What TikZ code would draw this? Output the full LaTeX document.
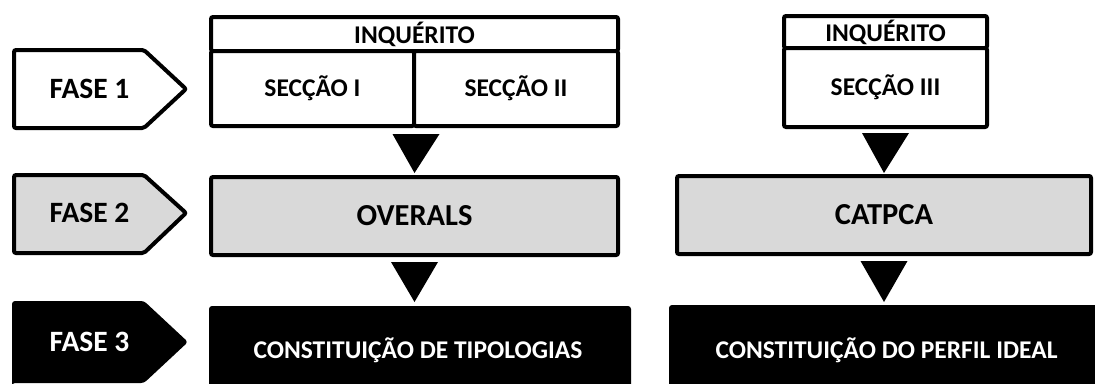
\documentclass[tikz,border=0pt]{standalone}
\usepackage{fontspec}
\setmainfont{Carlito}
\usetikzlibrary{calc}
\begin{document}
\begin{tikzpicture}[x=1pt,y=-1pt,
  frame/.style={draw=black, line width=4pt, rounded corners=2pt, inner sep=0pt},
  wbox/.style={frame, fill=white},
  gbox/.style={frame, fill=gray!30},
  bbox/.style={fill=black, rounded corners=3pt, inner sep=0pt, outer sep=0pt, text=white},
  small/.style={font=\bfseries\fontsize{25.5}{30}\selectfont},
  big/.style={font=\bfseries\fontsize{30.5}{36}\selectfont},
  fase/.style={font=\bfseries\fontsize{29.5}{34}\selectfont},
  tip/.style={fill=black}
]
\useasboundingbox (0,0) rectangle (1095,383);
\clip (0,0) rectangle (1095,383);

% phase labels
\draw[line width=4pt, rounded corners=2pt, fill=white]
  (14,50) -- (144,50) -- (186,89) -- (144,128) -- (14,128) -- cycle;
\node[fase, inner sep=0pt] (f1) at (89.5,89) {FASE 1};
\draw[line width=4pt, rounded corners=2pt, fill=gray!30]
  (14,175) -- (144,175) -- (186,213) -- (144,253) -- (14,253) -- cycle;
\node[fase, inner sep=0pt] (f2) at (89.5,213) {FASE 2};
\fill[rounded corners=3pt]
  (12,301) -- (144,301) -- (188,342) -- (144,383) -- (12,383) -- (12,395) -- cycle;
\node[fase, inner sep=0pt, text=white] (f3) at (89.5,342) {FASE 3};

% left column
\node[wbox, small, minimum width=407pt, minimum height=34pt] (inq1) at (414.5,34) {INQUÉRITO};
\node[wbox, small, minimum width=203pt, minimum height=75pt] (sec1) at (312.5,88.5) {SECÇÃO I};
\node[wbox, small, minimum width=204pt, minimum height=75pt] (sec2) at (516,88.5) {SECÇÃO II};
\node[gbox, big, minimum width=407pt, minimum height=78pt] (ov) at (414.5,216) {OVERALS};
\node[bbox, small, minimum width=422pt, minimum height=90pt] (ct) at (420,351) {};
\node[small, text=white] (ctt) at (418,350) {CONSTITUIÇÃO DE TIPOLOGIAS};

% right column
\node[wbox, small, minimum width=203pt, minimum height=32pt] (inq2) at (885.5,32) {INQUÉRITO};
\node[wbox, small, minimum width=203pt, minimum height=79pt] (sec3) at (885.5,87.5) {SECÇÃO III};
\node[gbox, big, minimum width=414pt, minimum height=78pt] (cat) at (884,215) {CATPCA};
\node[bbox, small, minimum width=434pt, minimum height=90pt] (cp) at (886,350) {};
\node[small, text=white] (cpt) at (886.5,350) {CONSTITUIÇÃO DO PERFIL IDEAL};

% triangles
\fill[tip] ($(sec1.south east)+(-23.5,6)$) -- ($(sec1.south east)+(23.5,6)$) -- ($(ov.north)+(0,-2)$) -- cycle;
\fill[tip] ($(ov.south)+(-23.5,5)$) -- ($(ov.south)+(23.5,5)$) -- ($(ct.north)+(-5.5,-4)$) -- cycle;
\fill[tip] ($(sec3.south)+(-23.5,4)$) -- ($(sec3.south)+(23.5,4)$) -- ($(cat.north)+(0,-1)$) -- cycle;
\fill[tip] ($(cat.south)+(-23.5,5)$) -- ($(cat.south)+(23.5,5)$) -- ($(cp.north)+(-2,-3)$) -- cycle;
\end{tikzpicture}
\end{document}
